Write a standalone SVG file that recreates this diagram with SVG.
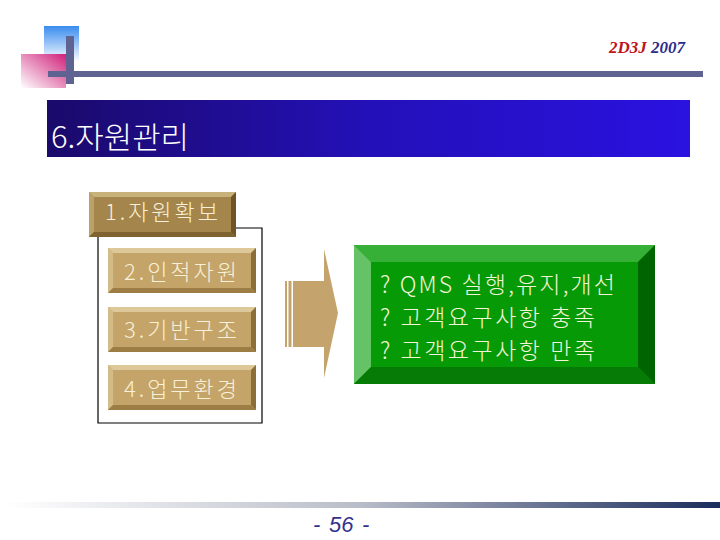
<svg xmlns="http://www.w3.org/2000/svg" width="720" height="540" viewBox="0 0 720 540">
<defs>
<linearGradient id="gBlue" x1="0" y1="0" x2="0" y2="1"><stop offset="0" stop-color="#3a8cf0"/><stop offset="1" stop-color="#ffffff"/></linearGradient>
<linearGradient id="gPink" x1="1" y1="0" x2="0" y2="1"><stop offset="0" stop-color="#d0207a"/><stop offset="1" stop-color="#ffffff"/></linearGradient>
<linearGradient id="gTitle" x1="0" y1="0" x2="1" y2="0"><stop offset="0" stop-color="#1a0a6a"/><stop offset="0.5" stop-color="#2410b8"/><stop offset="1" stop-color="#2a12e0"/></linearGradient>
<linearGradient id="gFoot" x1="0" y1="0" x2="1" y2="0"><stop offset="0" stop-color="#ffffff"/><stop offset="0.5" stop-color="#b8bcc8"/><stop offset="1" stop-color="#1a2c5c"/></linearGradient>
<style>
.kr{font-family:"Noto Sans CJK KR","Liberation Sans",sans-serif;font-weight:300}
.bt{font-size:22px;fill:#f8f0d8}
.gt{font-size:23px;fill:#f4f4d8}
</style>
</defs>
<g id="header">
<rect x="44" y="26" width="35" height="36" fill="url(#gBlue)"/>
<rect x="21" y="54" width="45" height="34" fill="url(#gPink)"/>
<rect x="66" y="36" width="8" height="48" fill="#5f6391"/>
<rect x="48" y="71" width="655" height="6" fill="#5f6391"/>
<text x="609" y="53" font-family="Liberation Serif,serif" font-style="italic" font-weight="bold" font-size="16" textLength="76" lengthAdjust="spacingAndGlyphs"><tspan fill="#c0141c">2D3J</tspan><tspan fill="#2c2c8c"> 2007</tspan></text>
</g>
<g id="title">
<rect x="47" y="100" width="643" height="57" fill="url(#gTitle)"/>
<text x="51" y="148" class="kr" font-size="30" fill="#ffffff" textLength="138" lengthAdjust="spacingAndGlyphs">6.자원관리</text>
</g>
<g id="connectors">
<polyline points="236,228 262,228 262,423 98,423 98,237" fill="none" stroke="#000" stroke-width="1.2"/>
</g>
<g id="box1">
<rect x="89" y="192" width="147" height="45" fill="#a4864c"/>
<polygon points="89,192 236,192 231,197 94,197" fill="#c8b27c"/>
<polygon points="89,192 94,197 94,232 89,237" fill="#bca168"/>
<polygon points="236,192 236,237 231,232 231,197" fill="#6e5426"/>
<polygon points="89,237 236,237 231,232 94,232" fill="#7e6230"/>
<text x="105" y="220" class="kr bt" textLength="113" lengthAdjust="spacing">1.자원확보</text>
</g>
<g id="box2">
<rect x="108" y="248" width="148" height="45" fill="#c4a468"/>
<polygon points="108,248 256,248 251,253 113,253" fill="#dcc898"/>
<polygon points="108,248 113,253 113,288 108,293" fill="#d4bc88"/>
<polygon points="256,248 256,293 251,288 251,253" fill="#8c6e38"/>
<polygon points="108,293 256,293 251,288 113,288" fill="#9c7e44"/>
<text x="124" y="280" class="kr bt" textLength="113" lengthAdjust="spacing">2.인적자원</text>
</g>
<g id="box3">
<rect x="108" y="307" width="148" height="45" fill="#c4a468"/>
<polygon points="108,307 256,307 251,312 113,312" fill="#dcc898"/>
<polygon points="108,307 113,312 113,347 108,352" fill="#d4bc88"/>
<polygon points="256,307 256,352 251,347 251,312" fill="#8c6e38"/>
<polygon points="108,352 256,352 251,347 113,347" fill="#9c7e44"/>
<text x="124" y="338" class="kr bt" textLength="113" lengthAdjust="spacing">3.기반구조</text>
</g>
<g id="box4">
<rect x="108" y="365" width="148" height="45" fill="#c4a468"/>
<polygon points="108,365 256,365 251,370 113,370" fill="#dcc898"/>
<polygon points="108,365 113,370 113,405 108,410" fill="#d4bc88"/>
<polygon points="256,365 256,410 251,405 251,370" fill="#8c6e38"/>
<polygon points="108,410 256,410 251,405 113,405" fill="#9c7e44"/>
<text x="124" y="397" class="kr bt" textLength="113" lengthAdjust="spacing">4.업무환경</text>
</g>
<g id="arrow">
<rect x="285" y="281" width="2" height="66" fill="#c4a46c"/>
<rect x="288.5" y="281" width="3" height="66" fill="#c4a46c"/>
<polygon points="293,281 324,281 324,249 338,313 324,378 324,347 293,347" fill="#c4a46c"/>
</g>
<g id="result">
<rect x="354" y="245" width="301" height="139" fill="#079a07"/>
<polygon points="354,245 655,245 638,262 371,262" fill="#36b036"/>
<polygon points="354,245 371,262 371,367 354,384" fill="#66c266"/>
<polygon points="655,245 655,384 638,367 638,262" fill="#006400"/>
<polygon points="354,384 655,384 638,367 371,367" fill="#067c06"/>
<text x="380" y="293" class="kr gt" textLength="235" lengthAdjust="spacing">? QMS 실행,유지,개선</text>
<text x="380" y="326" class="kr gt" textLength="215" lengthAdjust="spacing">? 고객요구사항 충족</text>
<text x="380" y="359" class="kr gt" textLength="215" lengthAdjust="spacing">? 고객요구사항 만족</text>
</g>
<g id="footer">
<rect x="5" y="502" width="715" height="6" fill="url(#gFoot)"/>
<text y="532" font-family="Liberation Sans,sans-serif" font-style="italic" font-size="22" fill="#33338c"><tspan x="313">-</tspan><tspan x="329">56</tspan><tspan x="362">-</tspan></text>
</g>
</svg>
